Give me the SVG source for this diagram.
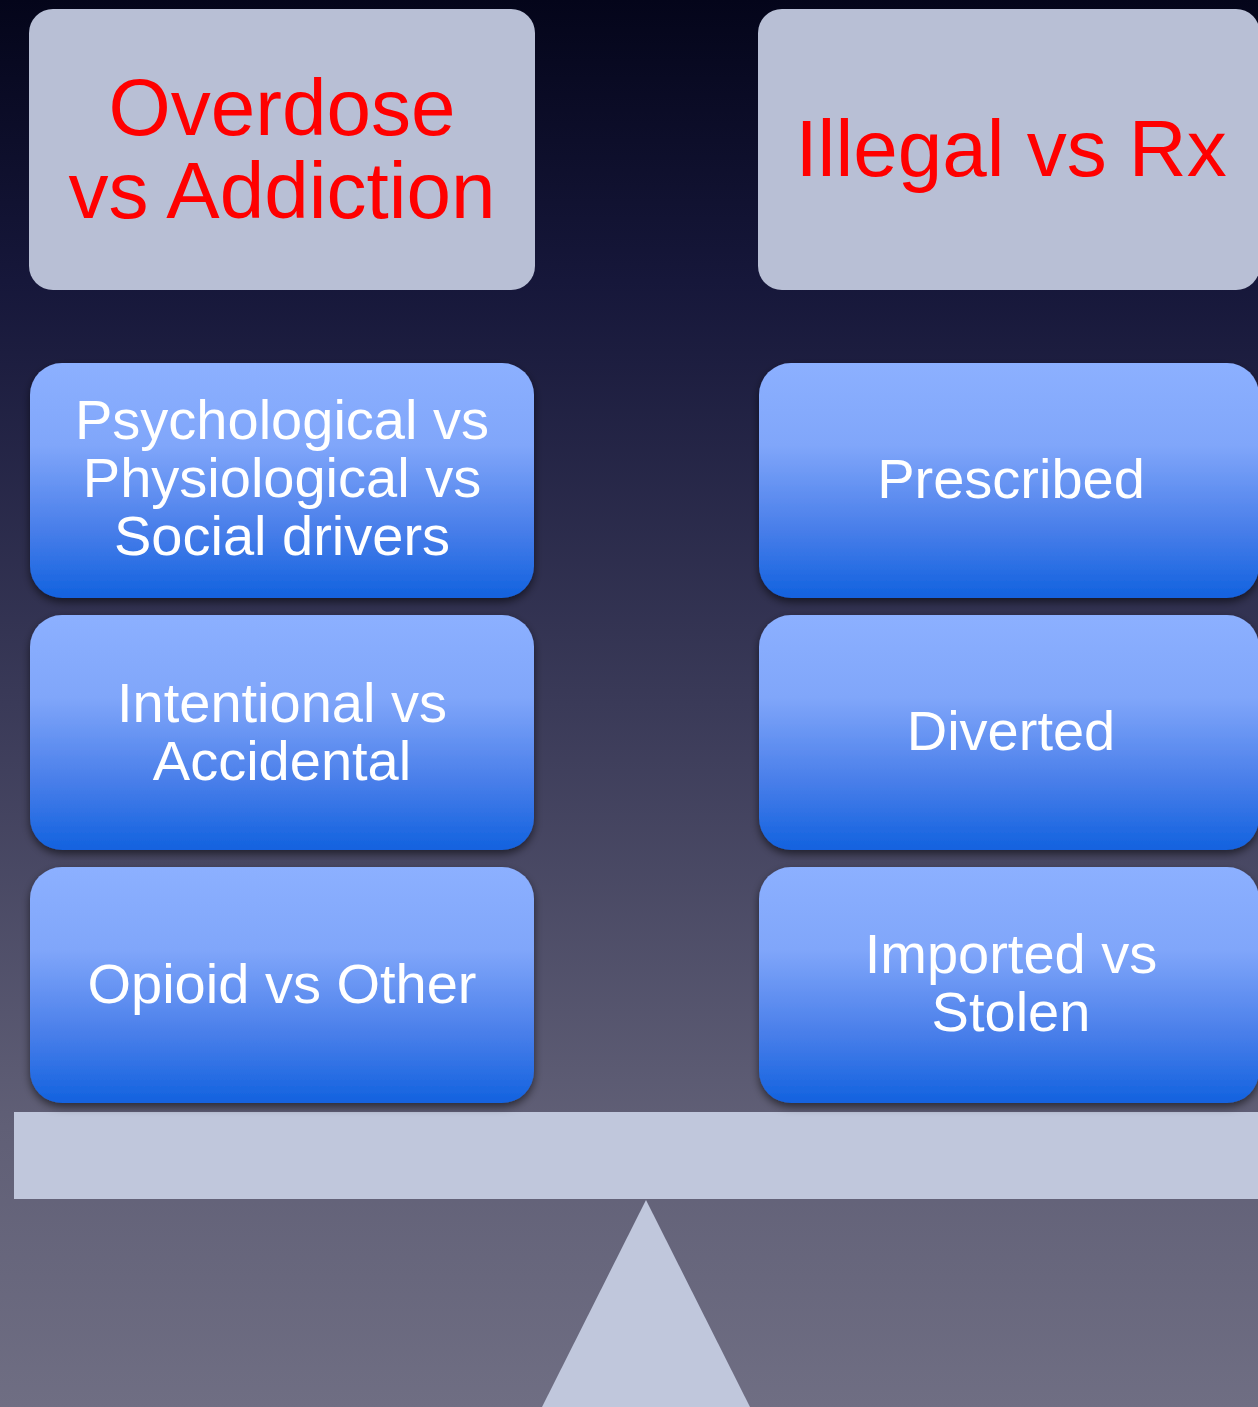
<svg xmlns="http://www.w3.org/2000/svg" width="1258" height="1407" viewBox="0 0 1258 1407">
<defs>
<linearGradient id="bg" x1="0" y1="0" x2="0" y2="1">
<stop offset="0" stop-color="#04051a"/>
<stop offset="0.2" stop-color="#16173a"/>
<stop offset="0.5" stop-color="#3a3a58"/>
<stop offset="0.8" stop-color="#605f76"/>
<stop offset="1" stop-color="#6f6e83"/>
</linearGradient>
<linearGradient id="blue" x1="0" y1="0" x2="0" y2="1">
<stop offset="0" stop-color="#8cb0ff"/>
<stop offset="0.35" stop-color="#80a6fa"/>
<stop offset="0.7" stop-color="#4a7fea"/>
<stop offset="1" stop-color="#1262df"/>
</linearGradient>
<filter id="sh" x="-10%" y="-10%" width="120%" height="130%">
<feDropShadow dx="0" dy="4" stdDeviation="4" flood-color="#000" flood-opacity="0.55"/>
</filter>
<style>
.gray{fill:#b8bfd5}
.blue{fill:url(#blue);filter:url(#sh)}
.red{fill:#ff0000;font-family:"Liberation Sans",Arial,sans-serif;font-size:80px;text-anchor:middle}
.wht{fill:#ffffff;font-family:"Liberation Sans",Arial,sans-serif;font-size:56px;text-anchor:middle}
.scale{fill:#c0c7dc}
</style>
</defs>
<rect width="1258" height="1407" fill="url(#bg)"/>
<g id="scale">
<rect class="scale" x="14" y="1112" width="1250" height="87"/>
<polygon class="scale" points="646,1200 750,1407 542,1407"/>
</g>
<g id="overdose">
<rect class="gray" x="29" y="9" width="506" height="281" rx="24"/>
<text class="red" x="282" y="135">Overdose</text>
<text class="red" x="282" y="218">vs Addiction</text>
</g>
<g id="illegal">
<rect class="gray" x="758" y="9" width="502" height="281" rx="24"/>
<text class="red" x="1011" y="176">Illegal vs Rx</text>
</g>
<g id="psych">
<rect class="blue" x="30" y="363" width="504" height="235" rx="32"/>
<text class="wht" x="282" y="439">Psychological vs</text>
<text class="wht" x="282" y="497">Physiological vs</text>
<text class="wht" x="282" y="555">Social drivers</text>
</g>
<g id="intentional">
<rect class="blue" x="30" y="615" width="504" height="235" rx="32"/>
<text class="wht" x="282" y="722">Intentional vs</text>
<text class="wht" x="282" y="780">Accidental</text>
</g>
<g id="opioid">
<rect class="blue" x="30" y="867" width="504" height="236" rx="32"/>
<text class="wht" x="282" y="1003">Opioid vs Other</text>
</g>
<g id="prescribed">
<rect class="blue" x="759" y="363" width="500" height="235" rx="32"/>
<text class="wht" x="1011" y="498">Prescribed</text>
</g>
<g id="diverted">
<rect class="blue" x="759" y="615" width="500" height="235" rx="32"/>
<text class="wht" x="1011" y="750">Diverted</text>
</g>
<g id="imported">
<rect class="blue" x="759" y="867" width="500" height="236" rx="32"/>
<text class="wht" x="1011" y="973">Imported vs</text>
<text class="wht" x="1011" y="1031">Stolen</text>
</g>
<g id="connectors"/>
</svg>
